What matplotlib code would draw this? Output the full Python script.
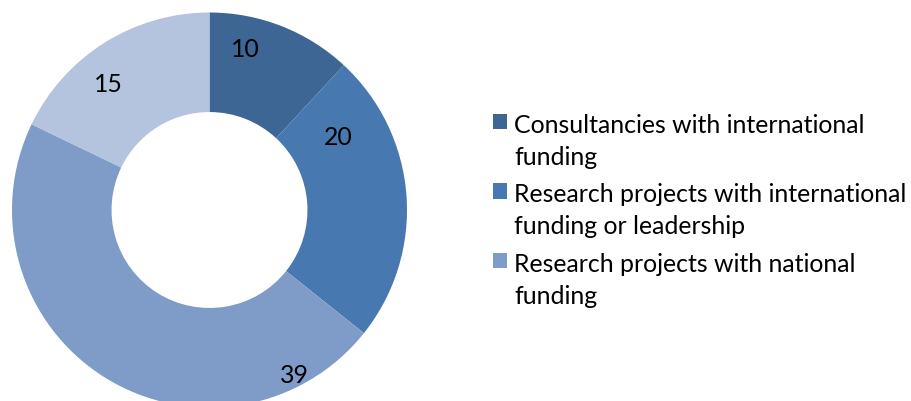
import matplotlib.pyplot as plt

# donut of project counts
categories = ["Consultancies with international\nfunding",
              "Research projects with international\nfunding or leadership",
              "Research projects with national\nfunding",
              "Other"]
values = [10, 20, 39, 15]
colors = ["#3e6695", "#4878b0", "#7f9cc8", "#b4c3de"]

# label spots (data coords, baseline of text) - moved by hand in the original
label_xy = [(0.18, 0.775), (0.65, 0.33), (0.43, -0.875), (-0.51, 0.595)]

plt.rcParams['font.family'] = ['Lato', 'DejaVu Sans']
fs = 17.9

fig = plt.figure(figsize=(9.11, 4.01), dpi=100)
# center at (209.5, 210) px, outer radius 197.5 px
ax = fig.add_axes([12 / 911, -6.5 / 401, 395 / 911, 395 / 401])
wedges, _ = ax.pie(values, colors=colors, startangle=90, counterclock=False,
                   radius=1, wedgeprops=dict(width=0.504, linewidth=0))
ax.set_xlim(-1, 1)
ax.set_ylim(-1, 1)
ax.set_aspect('equal')
ax.axis('off')

for v, (x, y) in zip(values, label_xy):
    ax.text(x, y, str(v), ha='center', va='baseline', fontsize=fs, color='black')

# only three entries show in the legend
leg = fig.legend(wedges[:3], categories[:3], loc='upper left',
                 bbox_to_anchor=(493 / 911, (401 - 114) / 401),
                 frameon=False, fontsize=fs, borderpad=0, borderaxespad=0,
                 handlelength=0.58, handleheight=0.58, handletextpad=0.28,
                 labelspacing=0.58)
for t in leg.get_texts():
    t.set_linespacing(1.47)
# line the squares up with the first text line
for hp in leg._legend_handle_box.get_children()[0].get_children():
    hp.align = 'top'

plt.savefig('out.png', dpi=100)
